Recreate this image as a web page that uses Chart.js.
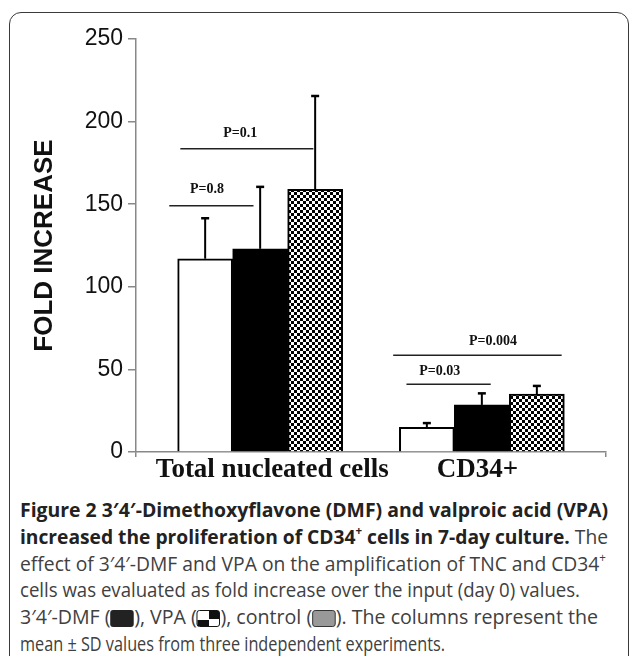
<!DOCTYPE html>
<html><head><meta charset="utf-8">
<script src="https://cdn.jsdelivr.net/npm/chart.js@4.4.1/dist/chart.umd.min.js"></script>
<style>
html,body{margin:0;padding:0;background:#fff;width:629px;height:656px;overflow:hidden;position:relative;}
#frame{position:absolute;left:9px;top:12px;width:620px;height:720px;border:1.5px solid #3a3a3a;border-radius:12px;box-sizing:border-box;}
#chart{position:absolute;left:0;top:0;}
#caption{position:absolute;left:20px;top:497px;font-family:'Open Sans','Noto Sans',sans-serif;font-size:20px;line-height:26.8px;color:#404040;white-space:nowrap;}
#caption b{color:#222;}
#caption .ln{display:inline-block;transform-origin:left center;}
.sw{display:inline-block;width:24px;height:17px;border-radius:3px;vertical-align:-3px;box-sizing:border-box;}
.sw.dmf{background:#222;}
.sw.vpa{background:conic-gradient(#111 0 25%,#fff 0 50%,#111 0 75%,#fff 0);background-size:24px 17px;border:1.5px solid #111;}
.sw.ctl{background:#999;border:1.5px solid #333;}
sup{font-size:0.6em;line-height:0;vertical-align:0.75em;}
</style></head>
<body>
<div id="frame"></div>
<canvas id="chart" width="629" height="490"></canvas>
<div id="caption">
<div><span class="ln"><b>Figure 2 3′4′-Dimethoxyflavone (DMF) and valproic acid (VPA)</b></span></div>
<div><span class="ln"><b>increased the proliferation of CD34<sup>+</sup> cells in 7-day culture.</b> The</span></div>
<div><span class="ln">effect of 3′4′-DMF and VPA on the amplification of TNC and CD34<sup>+</sup></span></div>
<div><span class="ln">cells was evaluated as fold increase over the input (day 0) values.</span></div>
<div><span class="ln">3′4′-DMF (<span class="sw dmf"></span>), VPA (<span class="sw vpa"></span>), control (<span class="sw ctl"></span>). The columns represent the</span></div>
<div><span class="ln">mean ± SD values from three independent experiments.</span></div>
</div>
<script>
const categories = ['Total nucleated cells', 'CD34+'];
const categoryLabelAt = [0.055, 0.98];
const seriesNames = ['Control', '3′4′-DMF', 'VPA'];
const controlMean = [117, 15];
const controlSD = [24.5, 2.5];
const dmfMean = [123, 28.5];
const dmfSD = [37.5, 7];
const vpaMean = [159, 35];
const vpaSD = [56.5, 5];
const yTicks = [0, 50, 100, 150, 200, 250];
const pLabels = ['P=0.8', 'P=0.1', 'P=0.03', 'P=0.004'];
const pLevel = [149, 183.5, 41, 58.5];
const pFrom = [-0.41, -0.36, 0.66, 0.60];
const pTo = [-0.03, 0.24, 1.04, 1.36];
const pTextX = [-0.24, -0.09, 0.81, 1.05];
const pTextLevel = [159, 193, 49, 67];

const X_MIN = -0.56, X_MAX = 1.56;
const captionLineWidths = [588, 588, 586, 560, 578, 425];

function checker() {
  const c = document.createElement('canvas'); c.width = 6; c.height = 6;
  const g = c.getContext('2d');
  g.fillStyle = '#fff'; g.fillRect(0, 0, 6, 6);
  g.fillStyle = '#000'; g.fillRect(0, 0, 3, 3); g.fillRect(3, 3, 3, 3);
  return g.createPattern(c, 'repeat');
}

function pts(arr) { return arr.map((v, i) => ({ x: i, y: v })); }

const errorBars = {
  id: 'errorBars',
  afterDatasetsDraw(chart) {
    const ctx = chart.ctx, y = chart.scales.y;
    chart.data.datasets.forEach((ds, di) => {
      const meta = chart.getDatasetMeta(di);
      meta.data.forEach((bar, i) => {
        const top = y.getPixelForValue(ds.data[i].y + ds.sd[i]);
        ctx.save();
        ctx.strokeStyle = '#000';
        ctx.lineWidth = 2;
        ctx.beginPath(); ctx.moveTo(bar.x, bar.y); ctx.lineTo(bar.x, top); ctx.stroke();
        ctx.lineWidth = 2.5;
        ctx.beginPath(); ctx.moveTo(bar.x - 4, top); ctx.lineTo(bar.x + 4, top); ctx.stroke();
        ctx.restore();
      });
    });
  }
};

const brackets = {
  id: 'brackets',
  afterDatasetsDraw(chart) {
    const ctx = chart.ctx, x = chart.scales.x, y = chart.scales.y;
    ctx.save();
    ctx.strokeStyle = '#222'; ctx.lineWidth = 1.5;
    ctx.fillStyle = '#111';
    ctx.font = 'bold 14px "Liberation Serif", "Times New Roman", serif';
    ctx.textAlign = 'center'; ctx.textBaseline = 'middle';
    pLabels.forEach((lab, i) => {
      const yy = y.getPixelForValue(pLevel[i]);
      ctx.beginPath(); ctx.moveTo(x.getPixelForValue(pFrom[i]), yy); ctx.lineTo(x.getPixelForValue(pTo[i]), yy); ctx.stroke();
      ctx.fillText(lab, x.getPixelForValue(pTextX[i]), y.getPixelForValue(pTextLevel[i]));
    });
    ctx.restore();
  }
};

new Chart(document.getElementById('chart'), {
  type: 'bar',
  data: {
    datasets: [
      { label: seriesNames[0], data: pts(controlMean), sd: controlSD, backgroundColor: '#fff', borderColor: '#000', borderWidth: 2 },
      { label: seriesNames[1], data: pts(dmfMean), sd: dmfSD, backgroundColor: '#000', borderColor: '#000', borderWidth: 2 },
      { label: seriesNames[2], data: pts(vpaMean), sd: vpaSD, backgroundColor: checker(), borderColor: '#000', borderWidth: 2 }
    ]
  },
  options: {
    responsive: false,
    animation: false,
    devicePixelRatio: 1,
    barThickness: 55,
    layout: { padding: { left: 9, top: 39, right: 23, bottom: 0 } },
    plugins: { legend: { display: false }, tooltip: { enabled: false } },
    scales: {
      x: {
        type: 'linear', min: X_MIN, max: X_MAX, offset: false,
        afterBuildTicks: s => { s.ticks = [X_MIN, ...categoryLabelAt, X_MAX].map(v => ({ value: v })); },
        afterFit: s => { s.height = 38; },
        border: { color: '#888', width: 1.5 },
        grid: {
          offset: false, drawOnChartArea: false, drawTicks: true, tickLength: 5, lineWidth: 1.5,
          color: c => (c.tick && (c.tick.value === X_MIN || c.tick.value === X_MAX)) ? '#888' : 'rgba(0,0,0,0)'
        },
        ticks: {
          autoSkip: false, maxRotation: 0, minRotation: 0, padding: 0, color: '#111',
          font: { family: '"Liberation Serif", "Times New Roman", serif', size: 27, weight: 'bold', lineHeight: 1 },
          callback: v => { const k = categoryLabelAt.indexOf(v); return k >= 0 ? categories[k] : ''; }
        }
      },
      y: {
        min: 0, max: 250,
        afterBuildTicks: s => { s.ticks = yTicks.map(v => ({ value: v })); },
        afterFit: s => { s.width = 127; },
        border: { color: '#888', width: 1.5 },
        grid: { drawOnChartArea: false, tickLength: 8, lineWidth: 1.5, color: '#888' },
        ticks: { padding: 5, color: '#111', font: { family: '"Liberation Sans", Arial, sans-serif', size: 23 } },
        title: {
          display: true, text: 'FOLD INCREASE', color: '#111',
          font: { family: '"Liberation Sans", Arial, sans-serif', size: 26, weight: 'bold' },
          padding: { top: 20, bottom: 0 }
        }
      }
    }
  },
  plugins: [errorBars, brackets]
});

(function () {
  const lines = document.querySelectorAll('#caption .ln');
  lines.forEach((ln, i) => {
    const w = ln.getBoundingClientRect().width;
    ln.style.transform = 'scaleX(' + (captionLineWidths[i] / w) + ')';
  });
})();
</script>
</body></html>
